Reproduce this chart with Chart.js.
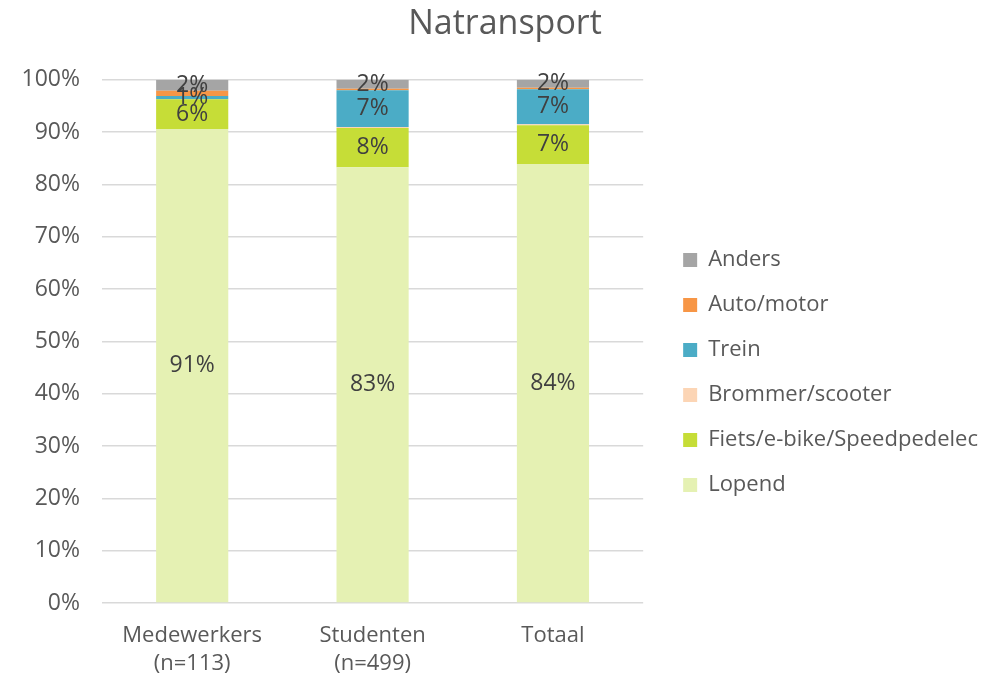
<!DOCTYPE html>
<html>
<head>
<meta charset="utf-8">
<script src="https://cdn.jsdelivr.net/npm/chart.js@4"></script>
<style>
  body { margin: 0; background: #fff; }
  #wrap { width: 992px; height: 675px; }
</style>
</head>
<body>
<div id="wrap"><canvas id="natransportChart" width="992" height="675"></canvas></div>
<script>
const categories = [['Medewerkers', '(n=113)'], ['Studenten', '(n=499)'], ['Totaal']];

const lopend   = [90.6, 83.3, 83.9];
const fiets    = [5.7, 7.5, 7.4];
const brommer  = [0.0, 0.2, 0.2];
const trein    = [0.6, 7.0, 6.7];
const auto     = [1.0, 0.3, 0.3];
const anders   = [2.1, 1.7, 1.5];

const yTicks = [0, 10, 20, 30, 40, 50, 60, 70, 80, 90, 100];

const FONT = '"Open Sans", sans-serif';
const GREY = '#595959';

// labels in the bars, only the series that show them
const segmentLabels = {
    id: 'segmentLabels',
    afterDatasetsDraw(chart) {
        const ctx = chart.ctx;
        ctx.save();
        ctx.font = '23px ' + FONT;
        ctx.fillStyle = '#404040';
        ctx.textAlign = 'center';
        ctx.textBaseline = 'middle';
        chart.data.datasets.forEach((ds, i) => {
            if (!ds.showLabel) return;
            chart.getDatasetMeta(i).data.forEach((bar, j) => {
                const v = ds.data[j];
                if (!v) return;
                ctx.fillText(Math.round(v) + '%', bar.x, (bar.y + bar.base) / 2);
            });
        });
        ctx.restore();
    }
};

function drawChart() {
    const ctx = document.getElementById('natransportChart').getContext('2d');

    new Chart(ctx, {
        type: 'bar',
        data: {
            labels: categories,
            datasets: [
                { label: 'Lopend', data: lopend, backgroundColor: '#e5f1b3', showLabel: true },
                { label: 'Fiets/e-bike/Speedpedelec', data: fiets, backgroundColor: '#c6dd37', showLabel: true },
                { label: 'Brommer/scooter', data: brommer, backgroundColor: '#fcd5b5', showLabel: false },
                { label: 'Trein', data: trein, backgroundColor: '#4bacc6', showLabel: true },
                { label: 'Auto/motor', data: auto, backgroundColor: '#f79646', showLabel: false },
                { label: 'Anders', data: anders, backgroundColor: '#a5a5a5', showLabel: true }
            ]
        },
        options: {
            responsive: false,
            animation: false,
            datasets: { bar: { categoryPercentage: 1, barPercentage: 0.4 } },
            layout: { padding: { left: 22, right: 4, top: 0, bottom: 0 } },
            plugins: {
                title: {
                    display: true,
                    text: 'Natransport',
                    color: GREY,
                    font: { family: FONT, size: 34, weight: 'normal' },
                    padding: { top: 4, bottom: 35 }
                },
                legend: {
                    position: 'right',
                    reverse: true,
                    maxWidth: 400,
                    title: { display: true, text: ' ', font: { size: 20 }, padding: 23 },
                    labels: {
                        color: GREY,
                        font: { family: FONT, size: 22 },
                        boxWidth: 14,
                        boxHeight: 14,
                        padding: 23
                    }
                },
                tooltip: { enabled: false }
            },
            scales: {
                x: {
                    stacked: true,
                    grid: { display: false },
                    border: { display: false },
                    ticks: {
                        color: GREY,
                        font: { family: FONT, size: 22, lineHeight: 1.25 },
                        padding: 11,
                        maxRotation: 0
                    },
                    afterFit(scale) { scale.height = 72; }
                },
                y: {
                    stacked: true,
                    min: 0,
                    max: 100,
                    afterBuildTicks(scale) { scale.ticks = yTicks.map(v => ({ value: v })); },
                    grid: { color: '#d9d9d9', lineWidth: 1.5, drawTicks: false },
                    border: { display: false },
                    ticks: {
                        color: GREY,
                        font: { family: FONT, size: 23 },
                        padding: 22,
                        callback: v => v + '%'
                    },
                    afterFit(scale) { scale.width = 80; }
                },
                // spacer between plot and legend
                gap: {
                    position: 'right',
                    display: true,
                    grid: { display: false },
                    border: { display: false },
                    ticks: { display: false },
                    afterFit(scale) { scale.width = 17; }
                }
            }
        },
        plugins: [segmentLabels]
    });
}

document.fonts.load('22px "Open Sans"').then(drawChart, drawChart);
</script>
</body>
</html>
